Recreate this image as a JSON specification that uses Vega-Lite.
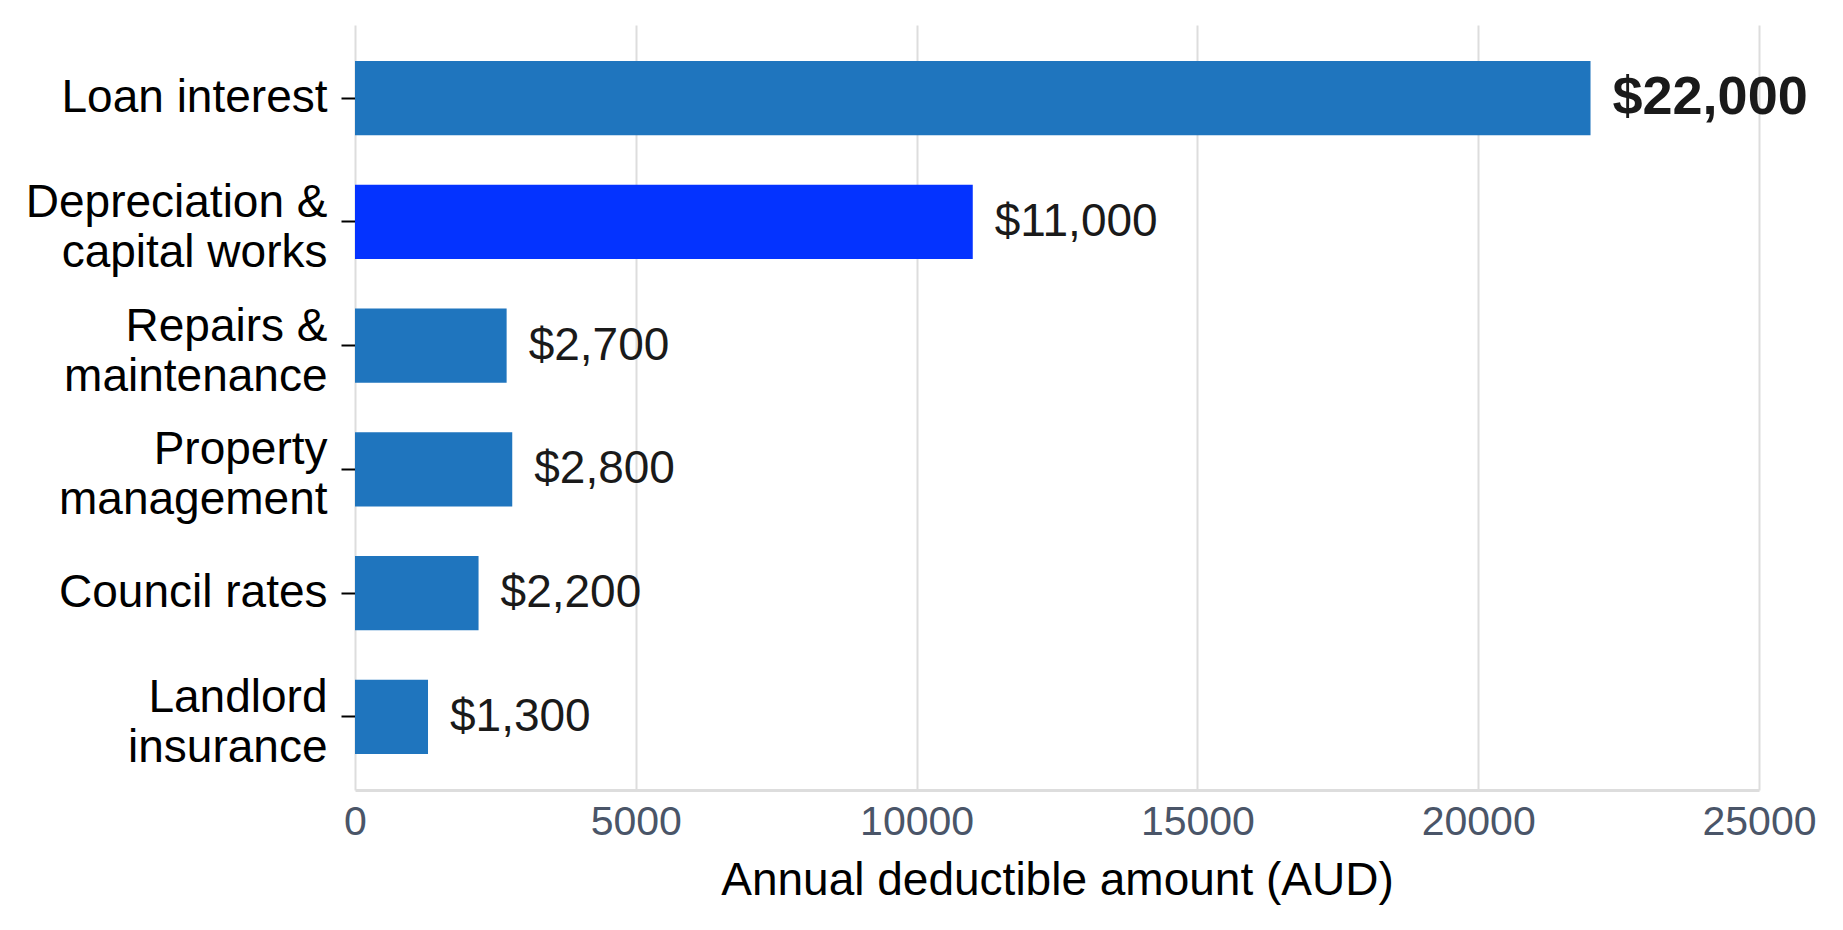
{
  "$schema": "https://vega.github.io/schema/vega-lite/v6.json",
  "autosize": {"type": "none"},
  "padding": {"left": 355, "top": 25, "right": 84, "bottom": 140},
  "width": 1404,
  "height": 765,
  "background": "white",
  "config": {
    "view": {"stroke": null},
    "font": "Liberation Sans"
  },
  "data": {
    "values": [
      {"category": "Loan interest", "amount": 22000},
      {"category": "Depreciation & capital works", "amount": 11000},
      {"category": "Repairs & maintenance", "amount": 2700},
      {"category": "Property management", "amount": 2800},
      {"category": "Council rates", "amount": 2200},
      {"category": "Landlord insurance", "amount": 1300}
    ]
  },
  "encoding": {
    "y": {
      "field": "category",
      "type": "nominal",
      "sort": null,
      "scale": {"paddingInner": 0.4, "paddingOuter": 0.29},
      "axis": {
        "title": null,
        "domain": false,
        "grid": false,
        "ticks": true,
        "tickColor": "#000000",
        "tickSize": 14,
        "tickWidth": 2,
        "labelPadding": 14,
        "labelFontSize": 46,
        "labelColor": "#000000",
        "labelFont": "Liberation Sans",
        "labelLineHeight": 50,
        "labelLimit": 400,
        "labelExpr": "datum.label == 'Depreciation & capital works' ? ['Depreciation &', 'capital works'] : datum.label == 'Repairs & maintenance' ? ['Repairs &', 'maintenance'] : datum.label == 'Property management' ? ['Property', 'management'] : datum.label == 'Landlord insurance' ? ['Landlord', 'insurance'] : datum.label",
        "labelOffset": {
          "condition": {"test": "datum.value == 'Loan interest' || datum.value == 'Council rates'", "value": 0},
          "value": -19
        }
      }
    },
    "x": {
      "field": "amount",
      "type": "quantitative",
      "scale": {"domain": [0, 25000], "nice": false, "zero": true},
      "axis": {
        "title": "Annual deductible amount (AUD)",
        "titleFontSize": 46,
        "titleFontWeight": "normal",
        "titleColor": "#000000",
        "titleFont": "Liberation Sans",
        "titlePadding": 16,
        "values": [0, 5000, 10000, 15000, 20000, 25000],
        "format": "d",
        "grid": true,
        "gridColor": "#dddddd",
        "gridWidth": 2,
        "domain": true,
        "domainColor": "#dddddd",
        "domainWidth": 3,
        "ticks": false,
        "labelFontSize": 41,
        "labelColor": "#4a5568",
        "labelFont": "Liberation Sans",
        "labelPadding": 12,
        "labelFlush": false
      }
    }
  },
  "layer": [
    {
      "mark": {"type": "bar"},
      "encoding": {
        "color": {
          "condition": {"test": "datum.category == 'Depreciation & capital works'", "value": "#0433ff"},
          "value": "#1f75be"
        }
      }
    },
    {
      "transform": [{"filter": "datum.amount != 22000"}],
      "mark": {"type": "text", "align": "left", "baseline": "middle", "dx": 22, "fontSize": 46, "color": "#1a1a1a", "font": "Liberation Sans"},
      "encoding": {
        "text": {"field": "amount", "type": "quantitative", "format": "$,.0f"}
      }
    },
    {
      "transform": [{"filter": "datum.amount == 22000"}],
      "mark": {"type": "text", "align": "left", "baseline": "middle", "dx": 22, "fontSize": 54, "fontWeight": "bold", "color": "#1a1a1a", "font": "Liberation Sans"},
      "encoding": {
        "text": {"field": "amount", "type": "quantitative", "format": "$,.0f"}
      }
    }
  ]
}
